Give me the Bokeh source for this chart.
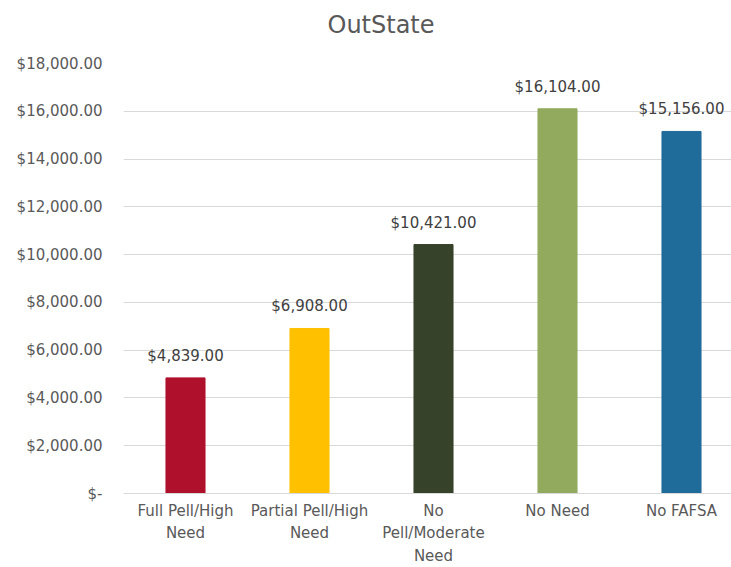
from bokeh.plotting import figure
from bokeh.models import (ColumnDataSource, Range1d, FixedTicker, NumeralTickFormatter, Title)
from bokeh.core.properties import value
from bokeh.embed import file_html
from bokeh.resources import INLINE

categories = ["Full Pell/High Need", "Partial Pell/High Need", "No Pell/Moderate Need", "No Need", "No FAFSA"]
tick_labels = ["Full Pell/High\nNeed", "Partial Pell/High\nNeed", "No\nPell/Moderate\nNeed", "No Need", "No FAFSA"]
values = [4839, 6908, 10421, 16104, 15156]
colors = ["#AF102C", "#FFC000", "#37422A", "#92AA5E", "#1F6B99"]
y_ticks = [0, 2000, 4000, 6000, 8000, 10000, 12000, 14000, 16000, 18000]

FONT = "DejaVu Sans"
positions = list(range(len(categories)))
labels = ["${:,.2f}".format(v) for v in values]

src = ColumnDataSource(dict(x=positions, top=values, color=colors, label=labels, cat=categories))

W, H = 731, 567
LEFT, TOP, BOTTOM = 123, 63, 74
p = figure(width=W, height=H, output_backend="svg", toolbar_location=None,
           x_range=Range1d(-0.5, -0.5 + (W - LEFT) / 124), y_range=Range1d(0, 18000),
           title="OutState")
p.min_border_left = LEFT
p.min_border_right = 0
p.min_border_top = TOP
p.min_border_bottom = BOTTOM
p.outline_line_color = None
p.background_fill_color = "white"
p.border_fill_color = "white"

p.title.text_font = FONT
p.title.text_font_size = "24px"
p.title.text_font_style = "normal"
p.title.text_color = "#595959"
p.title.align = "left"
p.title.offset = 204
p.title.vertical_align = "middle"
p.title.standoff = 0

# spacer between the title and the plot area
spacer = Title(text=" ", text_font_size="1px", standoff=21, text_color="white")
p.add_layout(spacer, "above")

p.vbar(x="x", top="top", width=0.315, bottom=0, color="color", source=src)

p.text(x="x", y="top", text="label", source=src, y_offset=-22,
       text_align="center", text_baseline="middle",
       text_font=value(FONT), text_font_size="15px", text_color="#404040")

# axes
p.xaxis.ticker = FixedTicker(ticks=positions)
p.xaxis.major_label_overrides = {i: t for i, t in zip(positions, tick_labels)}
p.xaxis.major_tick_line_color = None
p.xaxis.minor_tick_line_color = None
p.xaxis.axis_line_color = "#D9D9D9"
p.xaxis.major_label_text_font = FONT
p.xaxis.major_label_text_font_size = "15px"
p.xaxis.major_label_text_color = "#595959"
p.xaxis.major_label_standoff = 2
p.xaxis.major_label_text_line_height = 1.25

p.yaxis.ticker = FixedTicker(ticks=y_ticks)
p.yaxis.formatter = NumeralTickFormatter(format="$0,0.00")
p.yaxis.major_label_overrides = {0: "$-"}
p.yaxis.major_tick_line_color = None
p.yaxis.minor_tick_line_color = None
p.yaxis.axis_line_color = None
p.yaxis.major_label_text_font = FONT
p.yaxis.major_label_text_font_size = "15px"
p.yaxis.major_label_text_color = "#595959"
p.yaxis.major_label_standoff = 15

p.xgrid.grid_line_color = None
p.ygrid.grid_line_color = "#D9D9D9"
p.ygrid.grid_line_width = 1

open("out.html", "w").write(file_html(p, INLINE))
